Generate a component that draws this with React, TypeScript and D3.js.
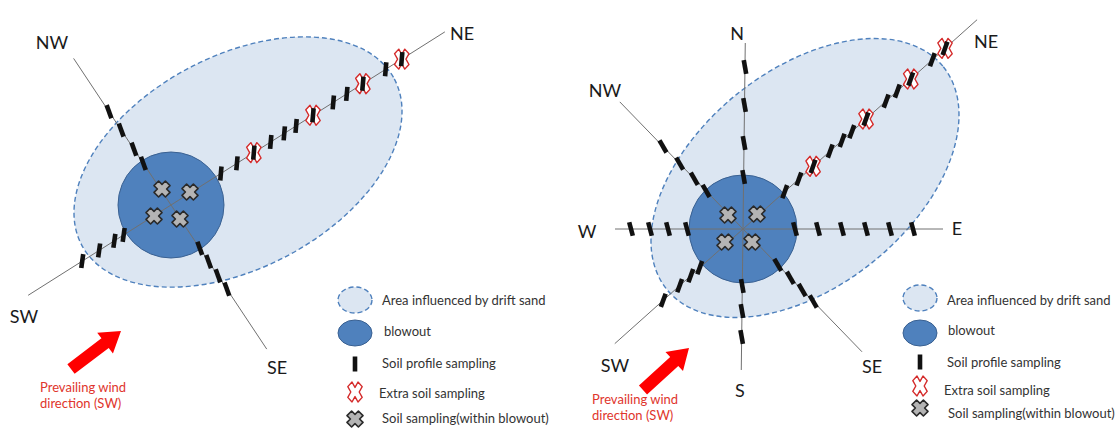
import React from "react";
import * as d3 from "d3";

const W = 1119;
const H = 428;

// ---------------- data ----------------
// Left scheme: 4 sampling arms (bearing in degrees, counter-clockwise from east)
const LEFT_ARM_NAMES = ["NE", "SW", "NW", "SE"];
const LEFT_ARM_BEARINGS = [32.3, 212.3, 123.6, 303.6];
const LEFT_ARM_LENGTHS = [324, 169, 176, 173];
const LEFT_TICKS = [
  [59, 78, 98, 118, 134, 148, 168, 192, 208, 227, 254, 273],
  [56, 67, 85, 105],
  [50, 67, 90, 112],
  [52, 68, 85, 101],
];
const LEFT_EXTRA = [[98, 168, 227, 273], [], [], []];
const LEFT_TICK_TILT = [5, 8, -20, -20];
const LEFT_LABEL_OFFSETS = [[291, -165], [-147, 118], [-119, -156], [106, 169]];
const LEFT_BLOWOUT_SAMPLES = [[-9, -16], [19, -13], [-17, 11], [9, 14]];

// Right scheme: 8 sampling arms
const RIGHT_ARM_NAMES = ["NE", "SW", "NW", "SE", "N", "S", "W", "E"];
const RIGHT_ARM_BEARINGS = [41.8, 221.8, 134.1, 314.1, 89.3, 269.3, 180, 0];
const RIGHT_ARM_LENGTHS = [314, 172, 177, 171, 186, 141, 128, 200];
const RIGHT_TICKS = [
  [56, 75, 94, 117, 133, 146, 165, 192, 207, 225, 254, 271],
  [58, 70, 85, 107],
  [53, 70, 91, 115],
  [50, 68, 85, 101],
  [52, 86, 124, 162],
  [57, 82, 108],
  [56, 75, 93, 112],
  [52, 75, 99, 123, 147, 170],
];
const RIGHT_EXTRA = [[94, 165, 225, 271], [], [], [], [], [], [], []];
const RIGHT_TICK_TILT = [20, 20, -30, -30, -10, -10, -15, -15];
const RIGHT_LABEL_OFFSETS = [
  [243, -181], [-128, 143], [-138, -132], [129, 144],
  [-6, -189], [-3, 168], [-156, 9], [214, 6],
];
const RIGHT_BLOWOUT_SAMPLES = [[-15, -14], [14, -15], [-18, 13], [9, 13]];

const LEGEND_LABELS = [
  "Area influenced by drift sand",
  "blowout",
  "Soil profile sampling",
  "Extra soil sampling",
  "Soil sampling(within blowout)",
];
const WIND_TEXT = ["Prevailing wind", "direction (SW)"];

// ---------------- layout ----------------
const PANELS = [
  {
    cx: 171, cy: 205, r: 53,
    ell: { x: 238, y: 162, a: 177, b: 106, ang: 28 },
    names: LEFT_ARM_NAMES, bearings: LEFT_ARM_BEARINGS, lengths: LEFT_ARM_LENGTHS,
    ticks: LEFT_TICKS, extra: LEFT_EXTRA, tilt: LEFT_TICK_TILT,
    labels: LEFT_LABEL_OFFSETS, samples: LEFT_BLOWOUT_SAMPLES,
    legend: { iconX: 355, textX: [382, 384, 382, 379, 382], ys: [305, 336, 368, 398, 423], iconYs: [300, 333, 364, 392, 419] },
    arrow: { x0: 71, y0: 369, x1: 121, y1: 331 },
    windText: { x: 40, ys: [392, 408] },
  },
  {
    cx: 743, cy: 229, r: 54,
    ell: { x: 805, y: 178, a: 177.5, b: 108, ang: 38.8 },
    names: RIGHT_ARM_NAMES, bearings: RIGHT_ARM_BEARINGS, lengths: RIGHT_ARM_LENGTHS,
    ticks: RIGHT_TICKS, extra: RIGHT_EXTRA, tilt: RIGHT_TICK_TILT,
    labels: RIGHT_LABEL_OFFSETS, samples: RIGHT_BLOWOUT_SAMPLES,
    legend: { iconX: 920, textX: [947, 948, 947, 944, 948], ys: [305, 335, 367, 395, 418], iconYs: [298, 333, 362, 386, 408] },
    arrow: { x0: 643, y0: 390, x1: 689, y1: 348 },
    windText: { x: 592, ys: [404, 420] },
  },
];

const dist = d3.scaleLinear().domain([0, 100]).range([0, 100]);
const rad = (d: number) => (d * Math.PI) / 180;
const line = d3.line();

function xShape(sx: number, sy: number, kx: number, ky: number) {
  const pts: [number, number][] = [
    [0, -ky], [sx - kx, -sy], [sx, -sy + ky], [kx, 0], [sx, sy - ky], [sx - kx, sy],
    [0, ky], [-sx + kx, sy], [-sx, sy - ky], [-kx, 0], [-sx, -sy + ky], [-sx + kx, -sy],
  ];
  return line(pts) + "Z";
}
const RED_X = xShape(7.2, 10, 4.2, 4.6);
const GREY_X = xShape(8, 8, 4.6, 4.6);

const LABEL_FONT = "Lato, 'Open Sans', sans-serif";

function Tick({ x, y, rot }: { x: number; y: number; rot: number }) {
  return (
    <rect x={-2.3} y={-7} width={4.6} height={14} fill="#111" transform={`translate(${x},${y}) rotate(${rot})`} />
  );
}
function RedX({ x, y }: { x: number; y: number }) {
  return <path d={RED_X} transform={`translate(${x},${y})`} fill="#fff" stroke="#d42a2a" strokeWidth={1.4} strokeLinejoin="round" />;
}
function GreyX({ x, y }: { x: number; y: number }) {
  return <path d={GREY_X} transform={`translate(${x},${y})`} fill="#b4b4b4" stroke="#2a2a2a" strokeWidth={1.6} strokeLinejoin="round" />;
}

function Arrow({ x0, y0, x1, y1 }: { x0: number; y0: number; x1: number; y1: number }) {
  const L = Math.hypot(x1 - x0, y1 - y0);
  const ang = (Math.atan2(y1 - y0, x1 - x0) * 180) / Math.PI;
  const sh = 6, hh = 13, hl = 20;
  const pts: [number, number][] = [[0, -sh], [L - hl, -sh], [L - hl, -hh], [L, 0], [L - hl, hh], [L - hl, sh], [0, sh]];
  return <path d={line(pts) + "Z"} fill="#ff0000" transform={`translate(${x0},${y0}) rotate(${ang})`} />;
}

function Panel({ p }: { p: (typeof PANELS)[number] }) {
  const pt = (b: number, d: number): [number, number] => [
    p.cx + dist(d) * Math.cos(rad(b)),
    p.cy - dist(d) * Math.sin(rad(b)),
  ];
  const lg = p.legend;
  return (
    <g>
      <ellipse
        cx={p.ell.x} cy={p.ell.y} rx={p.ell.a} ry={p.ell.b}
        transform={`rotate(${-p.ell.ang} ${p.ell.x} ${p.ell.y})`}
        fill="#dce6f2" stroke="#4f81bd" strokeWidth={1.4} strokeDasharray="5 3"
      />
      <circle cx={p.cx} cy={p.cy} r={p.r} fill="#4f81bd" stroke="#3a6192" strokeWidth={1} />
      {p.bearings.map((b, i) => {
        const [x2, y2] = pt(b, p.lengths[i]);
        return <line key={"l" + i} x1={p.cx} y1={p.cy} x2={x2} y2={y2} stroke="#707070" strokeWidth={1} />;
      })}
      {p.extra.map((arr, i) => arr.map((d, j) => {
        const [x, y] = pt(p.bearings[i], d);
        return <RedX key={"e" + i + "-" + j} x={x} y={y} />;
      }))}
      {p.ticks.map((arr, i) => arr.map((d, j) => {
        const [x, y] = pt(p.bearings[i], d);
        return <Tick key={"t" + i + "-" + j} x={x} y={y} rot={p.tilt[i]} />;
      }))}
      {p.samples.map(([dx, dy], i) => (
        <GreyX key={"g" + i} x={p.cx + dist(dx)} y={p.cy + dist(dy)} />
      ))}
      {p.names.map((n, i) => (
        <text key={"n" + i} x={p.cx + p.labels[i][0]} y={p.cy + p.labels[i][1]} textAnchor="middle"
          fontFamily={LABEL_FONT} fontSize={18} fill="#1a1a1a">{n}</text>
      ))}
      {/* legend */}
      <ellipse cx={lg.iconX} cy={lg.iconYs[0]} rx={17} ry={13} fill="#dce6f2" stroke="#4f81bd" strokeWidth={1.4} strokeDasharray="5 3" />
      <ellipse cx={lg.iconX} cy={lg.iconYs[1]} rx={17} ry={13} fill="#4f81bd" stroke="#3a6192" strokeWidth={1} />
      <rect x={lg.iconX - 2.3} y={lg.iconYs[2] - 7.5} width={4.6} height={15} fill="#111" />
      <RedX x={lg.iconX} y={lg.iconYs[3]} />
      <GreyX x={lg.iconX} y={lg.iconYs[4]} />
      {LEGEND_LABELS.map((t, i) => (
        <text key={"lg" + i} x={lg.textX[i]} y={lg.ys[i]} fontFamily={LABEL_FONT} fontSize={13} fill="#333">{t}</text>
      ))}
      <Arrow {...p.arrow} />
      {WIND_TEXT.map((t, i) => (
        <text key={"w" + i} x={p.windText.x} y={p.windText.ys[i]} fontFamily={LABEL_FONT} fontSize={13} fill="#e0352c">{t}</text>
      ))}
    </g>
  );
}

export default function App() {
  return (
    <svg width={W} height={H} viewBox={`0 0 ${W} ${H}`} style={{ position: "absolute", left: 0, top: 0, background: "#fff" }}>
      <rect width={W} height={H} fill="#fff" />
      {PANELS.map((p, i) => <Panel key={i} p={p} />)}
    </svg>
  );
}
